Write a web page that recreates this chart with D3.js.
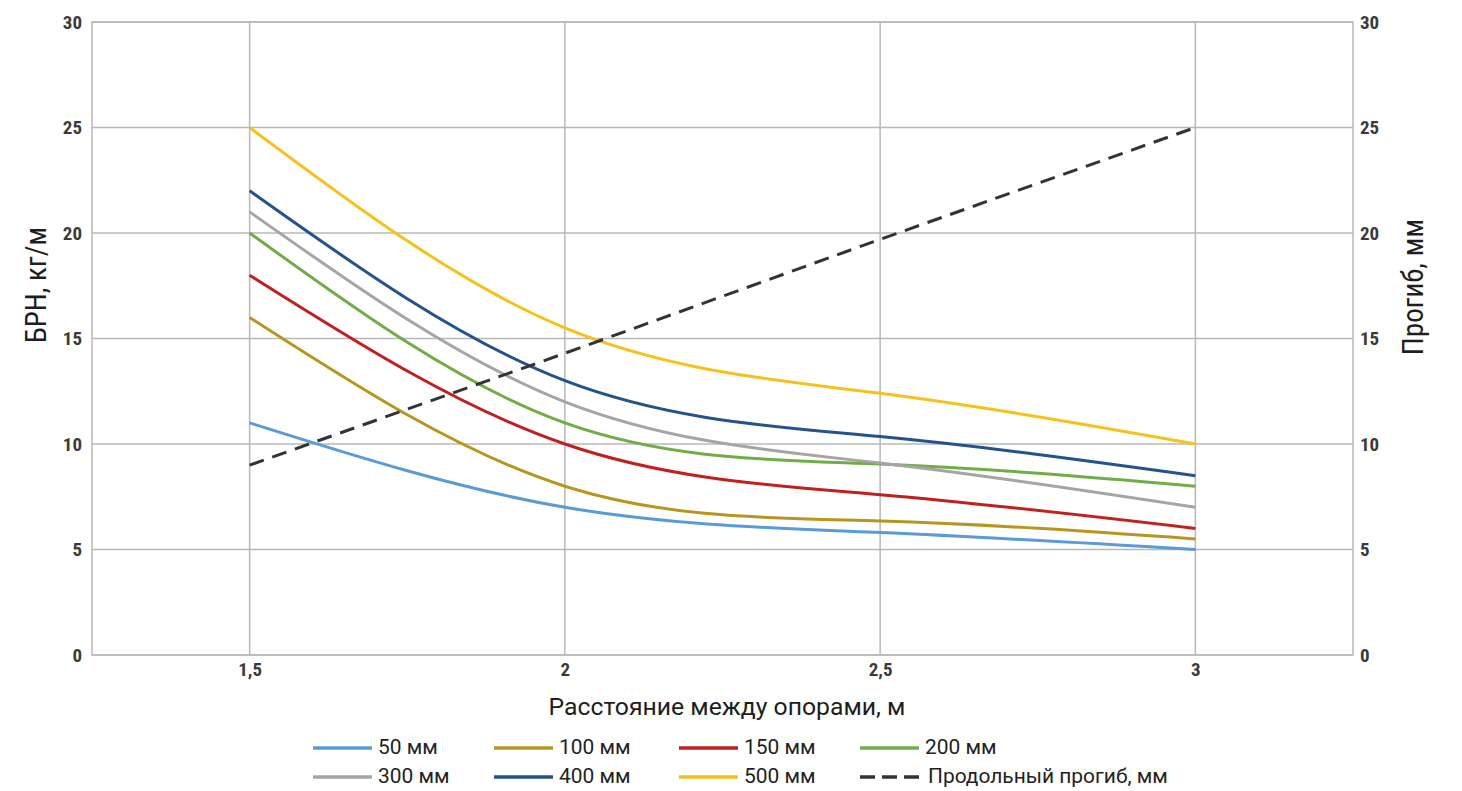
<!DOCTYPE html>
<html><head><meta charset="utf-8">
<script src="https://cdn.jsdelivr.net/npm/d3@7"></script>
<style>
body{margin:0;background:#fff;}
svg{display:block;font-family:"Liberation Sans Narrow","Roboto Condensed","Roboto",sans-serif;}
</style></head>
<body>
<svg id="chart" width="1462" height="791"></svg>
<script>
const xValues = [1.5, 2, 2.5, 3];
const seriesNames = ["50 мм","100 мм","150 мм","200 мм","300 мм","400 мм","500 мм"];
const s50  = [11, 7, 5.8, 5];
const s100 = [16, 8, 6.35, 5.5];
const s150 = [18, 10, 7.6, 6];
const s200 = [20, 11, 9.05, 8];
const s300 = [21, 12, 9.1, 7];
const s400 = [22, 13, 10.35, 8.5];
const s500 = [25, 15.5, 12.4, 10];
const deflection = [9, 14.3, 19.7, 25];
const deflectionName = "Продольный прогиб, мм";
const xTicks = [1.5, 2, 2.5, 3];
const yTicks = [0, 5, 10, 15, 20, 25, 30];
const colors = ["#5b9bd5","#b8961e","#c0201e","#70ad47","#a5a5a5","#23538a","#f4c21b"];

const seriesValues = [s50,s100,s150,s200,s300,s400,s500];
const svg = d3.select("#chart");
const L=92, R=1353, T=22, B=655;
const x = d3.scaleLinear().domain([1.25,3.25]).range([L,R]);
const y = d3.scaleLinear().domain([0,30]).range([B,T]);
const y2 = d3.scaleLinear().domain([0,30]).range([B,T]);
const fmt = d => String(d).replace(".", ",");
const grid = "#b8b8b8";

function fitText(sel, target){
  const node = sel.node();
  const fs = parseFloat(sel.attr("font-size"));
  const w = node.getComputedTextLength();
  if (w>0) sel.attr("font-size", fs*target/w);
}

// grid
svg.append("g").selectAll("line").data(yTicks).join("line")
  .attr("x1",L).attr("x2",R).attr("y1",d=>y(d)).attr("y2",d=>y(d))
  .attr("stroke",grid).attr("stroke-width",1.5);
svg.append("g").selectAll("line").data(xTicks).join("line")
  .attr("x1",d=>x(d)).attr("x2",d=>x(d)).attr("y1",T).attr("y2",B)
  .attr("stroke",grid).attr("stroke-width",1.5);
svg.append("rect").attr("x",L).attr("y",T).attr("width",R-L).attr("height",B-T)
  .attr("fill","none").attr("stroke",grid).attr("stroke-width",1.5);

// axes
const axL = svg.append("g").attr("transform",`translate(${L},0)`)
  .call(d3.axisLeft(y).tickValues(yTicks).tickFormat(fmt).tickSize(0).tickPadding(10));
const axR = svg.append("g").attr("transform",`translate(${R},0)`)
  .call(d3.axisRight(y2).tickValues(yTicks).tickFormat(fmt).tickSize(0).tickPadding(7));
const axB = svg.append("g").attr("transform",`translate(0,${B})`)
  .call(d3.axisBottom(x).tickValues(xTicks).tickFormat(fmt).tickSize(0).tickPadding(8));
[axL,axR,axB].forEach(a=>{a.select(".domain").remove();
  a.selectAll("text").attr("font-size",19).attr("fill","#3a3a3a").attr("font-weight","bold")
   .attr("font-family",'"Liberation Sans Narrow","Roboto Condensed",sans-serif');});

// lines
const line = d3.line().x((d,i)=>x(xValues[i])).y(d=>y(d)).curve(d3.curveNatural);
svg.append("g").selectAll("path").data(seriesValues).join("path")
  .attr("d",line).attr("fill","none").attr("stroke",(d,i)=>colors[i]).attr("stroke-width",3);
const line2 = d3.line().x((d,i)=>x(xValues[i])).y(d=>y2(d));
svg.append("path").datum(deflection).attr("d",line2).attr("fill","none")
  .attr("stroke","#333").attr("stroke-width",3).attr("stroke-dasharray","15,9");

// titles
svg.append("text").attr("transform","translate(46,285) rotate(-90)").attr("text-anchor","middle")
  .attr("font-size",29).attr("fill","#1e1e1e").text("БРН, кг/м");
svg.append("text").attr("transform","translate(1423,287) rotate(-90)").attr("text-anchor","middle")
  .attr("font-size",29).attr("fill","#1e1e1e").text("Прогиб, мм");
const xt = svg.append("text").attr("x",727).attr("y",715).attr("text-anchor","middle")
  .attr("font-size",22).attr("fill","#1e1e1e").attr("font-family","Roboto, sans-serif")
  .text("Расстояние между опорами, м");
fitText(xt, 357);

// legend
const legendItems = seriesNames.map((n,i)=>({name:n,color:colors[i],dash:null}))
  .concat([{name:deflectionName,color:"#333",dash:"15,7"}]);
const colX = [313, 494, 679, 860];
const rowY = [748, 777];
const lg = svg.append("g").selectAll("g").data(legendItems).join("g")
  .attr("transform",(d,i)=>`translate(${colX[i%4]},${rowY[Math.floor(i/4)]})`);
lg.append("line").attr("x1",0).attr("x2",59).attr("y1",0).attr("y2",0)
  .attr("stroke",d=>d.color).attr("stroke-width",3.5).attr("stroke-dasharray",d=>d.dash);
const lt = lg.append("text").attr("x",(d,i)=>i===7?68:65).attr("y",6).attr("font-size",16)
  .attr("fill","#222").attr("font-family","Roboto, sans-serif").text(d=>d.name);
const longNode = lt.filter(d=>d.name===deflectionName);
const lw = longNode.node().getComputedTextLength();
lt.attr("font-size", 16*240/lw);
</script>
</body></html>
